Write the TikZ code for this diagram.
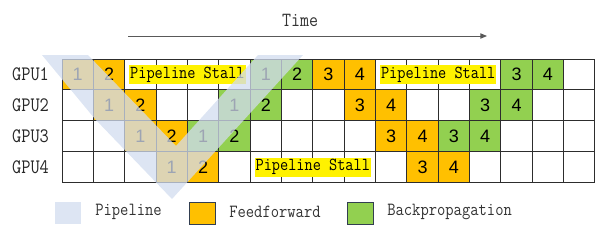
\documentclass[tikz,border=0pt]{standalone}
\usepackage{fontspec}
\usepackage{graphicx}
\usetikzlibrary{arrows.meta}
\newfontfamily\numfont{Liberation Sans}
\newcommand{\talltxt}[1]{\scalebox{1}[1.15]{#1}}
\definecolor{ffo}{RGB}{255,192,0}
\definecolor{bpg}{RGB}{146,208,80}
\definecolor{pipeblue}{RGB}{210,220,239}
\definecolor{gridc}{RGB}{45,45,45}
\definecolor{swborder}{RGB}{50,62,80}
\begin{document}
\begin{tikzpicture}[x=0.75pt,y=-0.75pt,
  cellbox/.style={minimum width=23.51pt,minimum height=23.18pt,inner sep=0pt,font=\numfont\fontsize{13.5pt}{15pt}\selectfont},
  gridline/.style={draw=gridc,line width=0.75pt},
  stall/.style={fill=yellow,inner xsep=0.8pt,inner ysep=0pt,minimum height=14.25pt,font=\ttfamily\fontsize{11.9pt}{14pt}\selectfont},
  gpulab/.style={font=\ttfamily\fontsize{13.4pt}{16pt}\selectfont,text=black!85,inner sep=0pt},
  leglab/.style={anchor=west,inner sep=0pt,font=\ttfamily\fontsize{12.1pt}{14pt}\selectfont,text=black!80},
  swatch/.style={minimum width=19.5pt,minimum height=16.5pt,inner sep=0pt},
  pipe/.style={fill=pipeblue,fill opacity=0.75},
  timearrow/.style={draw=black!65,line width=0.75pt,-{Triangle[length=5pt,width=4pt]}}
]
\useasboundingbox (0,0) rectangle (598,240);
% coloured cells
\foreach \r/\c/\k/\n in {0/0/ffo/1,0/1/ffo/2,0/6/bpg/1,0/7/bpg/2,0/8/ffo/3,0/9/ffo/4,0/14/bpg/3,0/15/bpg/4,
  1/1/ffo/1,1/2/ffo/2,1/5/bpg/1,1/6/bpg/2,1/9/ffo/3,1/10/ffo/4,1/13/bpg/3,1/14/bpg/4,
  2/2/ffo/1,2/3/ffo/2,2/4/bpg/1,2/5/bpg/2,2/10/ffo/3,2/11/ffo/4,2/12/bpg/3,2/13/bpg/4,
  3/3/ffo/1,3/4/ffo/2,3/11/ffo/3,3/12/ffo/4}
  \node[cellbox,fill=\k] (cell-\r-\c) at ({62+31.35*(\c+0.5)},{59+30.9*(\r+0.5)}) {\n};
% grid
\foreach \c in {0,...,17}
  \draw[gridline] ({62+31.35*\c},59) -- ({62+31.35*\c},182.6);
\foreach \r in {0,...,4}
  \draw[gridline] (62,{59+30.9*\r}) -- (595,{59+30.9*\r});
% stalls
\node[stall] (stallA) at (187.4,74.45) {\talltxt{Pipeline Stall}};
\node[stall] (stallB) at (438.2,74.45) {\talltxt{Pipeline Stall}};
\node[stall] (stallC) at (312.8,167.15) {\talltxt{Pipeline Stall}};
% GPU labels
\foreach \r in {0,...,3}
  \node[gpulab] (gpu\r) at (30.5,{59+30.9*(\r+0.5)}) {\talltxt{GPU\the\numexpr\r+1\relax}};
% time
\node[font=\ttfamily\fontsize{13.1pt}{16pt}\selectfont,text=black!80,inner sep=0pt] (time) at (300,20) {\talltxt{Time}};
\coordinate (tS) at (128,36);
\coordinate (tE) at (487,36);
\draw[timearrow] (tS) -- (tE);
% pipeline overlay
\fill[pipe] (42,55) -- (88,55) -- (176,146) -- (258,55) -- (303,55) -- (172,199) -- (95,119) -- cycle;
% legend
\node[swatch,pipe] (swP) at (67.5,212.5) {};
\node[leglab] (legP) at (95,212) {\talltxt{Pipeline}};
\node[swatch,fill=ffo,draw=swborder,line width=0.75pt] (swF) at (202.5,213) {};
\node[leglab] (legF) at (229,212) {\talltxt{Feedforward}};
\node[swatch,fill=bpg,draw=swborder,line width=0.75pt] (swB) at (360.5,213) {};
\node[leglab] (legB) at (387,212) {\talltxt{Backpropagation}};
\end{tikzpicture}
\end{document}
